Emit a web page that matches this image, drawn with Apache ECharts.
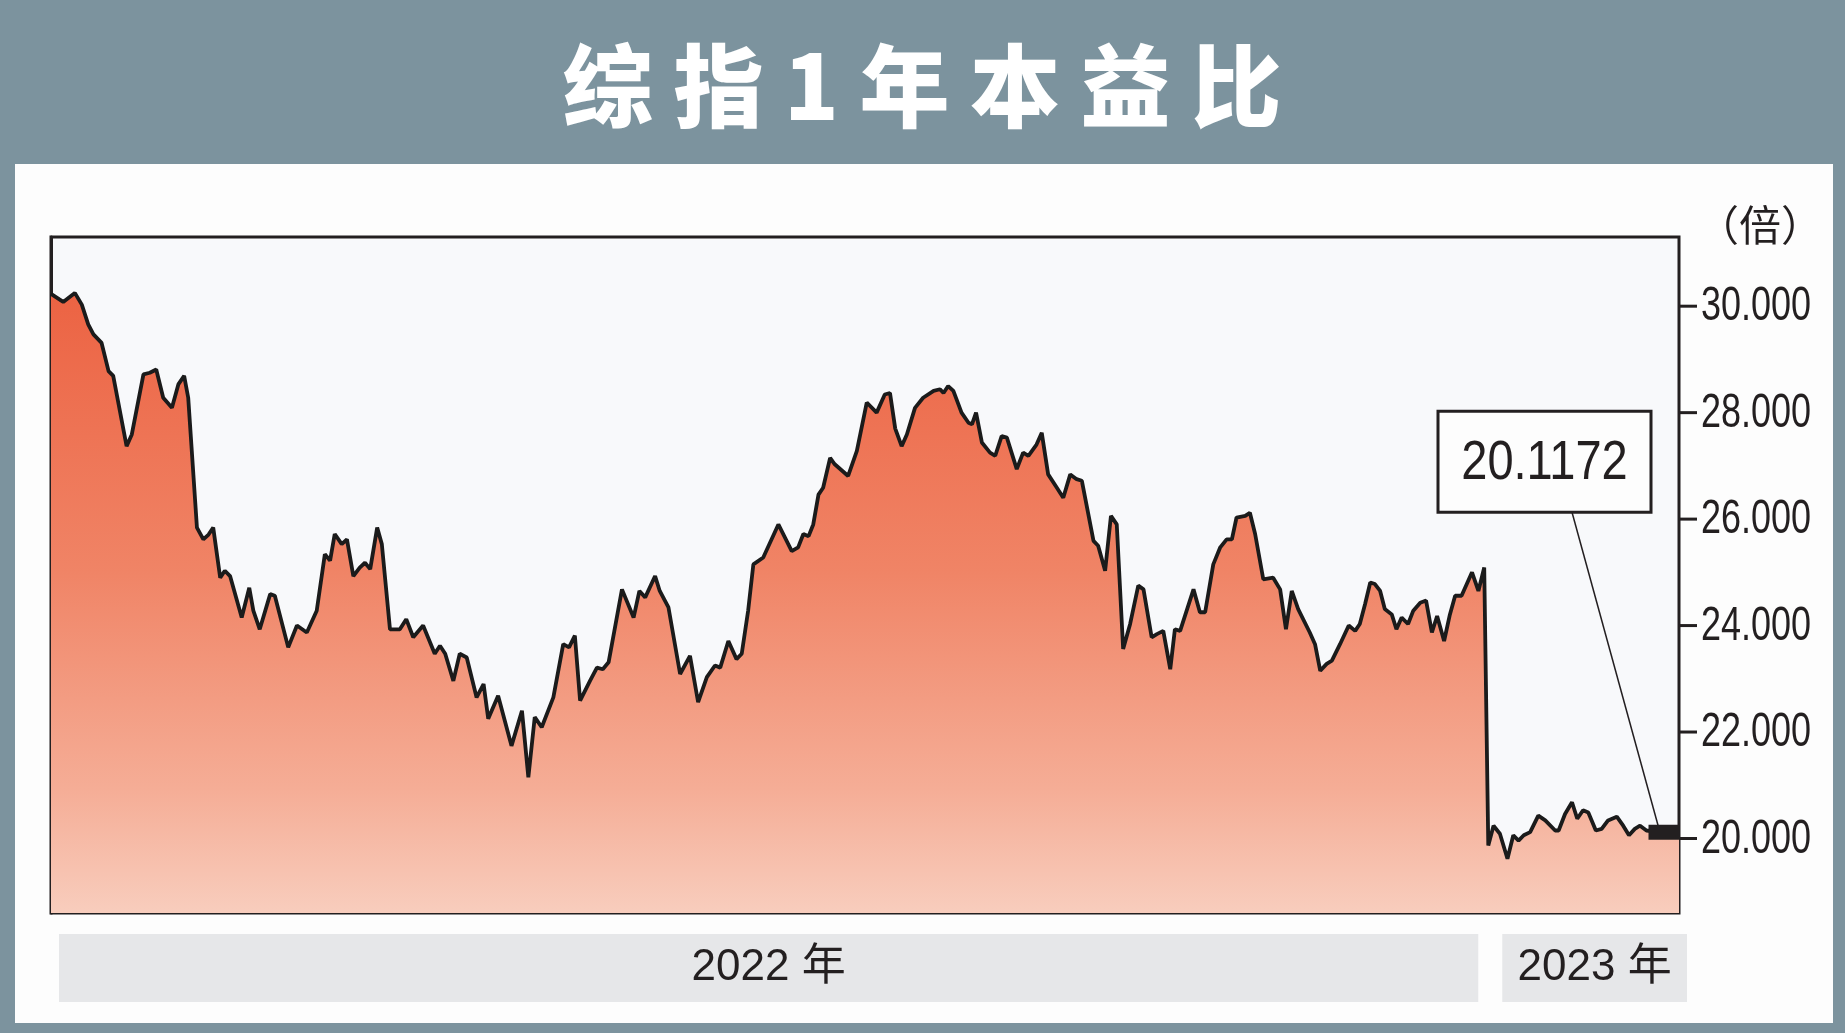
<!DOCTYPE html>
<html><head><meta charset="utf-8">
<script src="https://cdn.jsdelivr.net/npm/echarts@6/dist/echarts.min.js"></script>
<style>
html,body{margin:0;padding:0;width:1845px;height:1033px;overflow:hidden;background:#7c939e;}
#panel{position:absolute;left:15px;top:164px;width:1818px;height:859px;background:#fdfdfd;}
#chart{position:absolute;left:0;top:0;width:1845px;height:1033px;}
</style></head><body>
<div id="panel"></div><div id="chart"></div>
<script>
const titleText = '综 指 1 年 本 益 比';
const unitText = '（倍）';
const yearLabels = ['2022 年', '2023 年'];
const yearBoundaryDay = 246.85;
const lastLabel = '20.1172';
const yTicks = [20, 22, 24, 26, 28, 30];

// trading-day position of each vertex
const days = [
0,2.1,4.1,5.3,6.4,7.3,8.7,9.9,10.7,13.0,13.9,15.9,17.0,18.1,19.3,20.8,21.9,22.9,23.6,25.1,26.2,27.1,27.9,29.1,29.9,30.8,32.8,34.1,34.8,35.9,37.7,38.5,40.8,42.3,44.0,45.7,
47.1,48.0,48.8,50.0,50.9,52.0,53.1,54.0,54.9,56.1,56.9,58.3,60.0,61.1,62.3,64.0,66.0,66.9,67.8,69.2,70.3,71.5,73.2,74.4,75.2,76.9,79.2,81.0,82.1,83.2,84.4,86.4,88.1,89.1,90.1,91.0,92.7,93.9,94.9,
95.9,98.2,100.2,101.2,102.2,103.9,104.7,106.2,108.2,109.9,111.3,112.8,114.2,115.1,116.5,117.9,118.8,119.9,120.8,122.5,125.1,127.4,128.5,129.4,130.3,131.1,132.0,132.8,134.0,134.8,137.1,138.6,140.3,142.0,143.4,144.3,
145.2,146.3,147.2,148.6,150.0,151.8,152.9,153.5,154.3,155.2,156.6,157.8,158.4,159.1,160.1,161.5,162.4,163.5,164.4,166.1,167.2,168.1,169.5,170.4,171.5,173.0,174.1,175.3,176.4,177.3,179.3,180.1,181.3,182.3,183.3,184.4,185.6,187.0,187.9,189.3,190.2,191.3,192.5,193.3,194.2,
196.5,197.6,198.5,199.9,201.1,202.2,203.1,203.9,205.4,206.2,207.1,208.5,210.2,211.4,212.4,213.4,214.5,216.5,217.4,218.3,219.4,220.3,221.7,223.2,224.3,225.1,226.0,226.9,227.7,228.6,229.4,230.6,231.4,232.3,233.4,234.3,235.5,236.5,237.5,238.4,239.6,240.6,241.5,242.6,244.4,245.5,246.5,
247.2,248.1,249.2,250.5,251.5,252.4,253.3,254.4,255.8,257.0,258.7,259.3,260.4,261.6,262.5,263.5,264.4,265.7,266.7,267.8,269.3,270.4,271.4,272.4,273.3,274.4,276.7,280.0
];
// P/E ratio (倍)
const values = [
30.23,30.08,30.25,30.03,29.66,29.47,29.31,28.78,28.69,27.37,27.59,28.72,28.75,28.81,28.28,28.09,28.53,28.69,28.28,25.84,25.62,25.71,25.84,24.90,25.03,24.93,24.15,24.71,24.28,23.93,24.59,24.56,23.59,24.00,23.87,24.28,
25.34,25.22,25.72,25.53,25.62,24.93,25.09,25.18,25.06,25.84,25.53,23.93,23.93,24.12,23.78,24.00,23.47,23.62,23.47,22.96,23.47,23.40,22.65,22.90,22.25,22.68,21.74,22.40,21.15,22.28,22.09,22.65,23.65,23.59,23.81,22.59,22.96,23.21,23.18,
23.31,24.68,24.15,24.65,24.53,24.93,24.65,24.34,23.09,23.43,22.56,23.03,23.25,23.21,23.71,23.37,23.47,24.28,25.15,25.28,25.90,25.40,25.47,25.72,25.68,25.90,26.46,26.59,27.15,27.03,26.81,27.28,28.19,28.00,28.34,28.37,
27.70,27.37,27.59,28.09,28.28,28.41,28.44,28.37,28.50,28.41,28.00,27.81,27.78,28.00,27.44,27.25,27.19,27.56,27.53,26.94,27.25,27.19,27.40,27.62,26.84,26.59,26.40,26.84,26.75,26.72,25.59,25.50,25.03,26.06,25.90,23.56,24.03,24.75,24.68,23.78,23.84,23.90,23.18,23.93,23.90,
24.68,24.25,24.25,25.15,25.47,25.62,25.62,26.03,26.06,26.12,25.72,24.87,24.90,24.68,23.93,24.65,24.31,23.87,23.65,23.15,23.28,23.34,23.65,24.00,23.90,24.03,24.40,24.81,24.78,24.65,24.31,24.21,23.93,24.15,24.03,24.28,24.43,24.47,23.87,24.18,23.71,24.21,24.56,24.56,25.00,24.65,25.09,
19.87,20.24,20.09,19.62,20.06,19.96,20.06,20.12,20.43,20.34,20.15,20.15,20.46,20.68,20.37,20.53,20.49,20.15,20.18,20.34,20.41,20.24,20.06,20.18,20.24,20.15,20.12,20.1172
];

const sansFont = "'Liberation Sans','Noto Sans CJK SC',sans-serif";
const ink = '#231f20';
const chart = echarts.init(document.getElementById('chart'));
const seriesData = days.map((d, i) => [d, values[i]]);
const lastPt = seriesData[seriesData.length - 1];
const xMin = 0, xMax = 280, yMin = 18.6, yMax = 31.3;
const tickLen = 18;

chart.setOption({
  animation: false,
  backgroundColor: 'transparent',
  grid: { left: 51, right: 166, top: 237, bottom: 120, show: true, backgroundColor: '#f8f9fb', borderColor: ink, borderWidth: 3 },
  xAxis: { type: 'value', min: xMin, max: xMax, show: false },
  yAxis: {
    type: 'value', position: 'right', min: yMin, max: yMax,
    splitLine: { show: false },
    axisLine: { show: true, lineStyle: { color: ink, width: 3 } },
    axisTick: { show: false },
    axisLabel: { show: false }
  },
  series: [{
    type: 'line', data: seriesData, symbol: 'none', z: 3,
    lineStyle: { color: '#1b1b1b', width: 3.8 },
    areaStyle: { origin: 'start', opacity: 1, color: new echarts.graphic.LinearGradient(0, 0, 0, 1, [
      { offset: 0, color: '#ec6343' }, { offset: 0.45, color: '#f08466' },
      { offset: 0.8, color: '#f5ad96' }, { offset: 1, color: '#f8cdbd' }]) },
    markPoint: { silent: true, symbol: 'rect', symbolSize: [31, 15], symbolOffset: [-15, 0],
      itemStyle: { color: ink }, label: { show: false }, data: [{ coord: lastPt }] }
  }]
});

const toPx = pt => chart.convertToPixel({ seriesIndex: 0 }, pt);
const p = toPx(lastPt);
const bx = toPx([yearBoundaryDay, 20])[0];
const gl = toPx([xMin, yMin]);
const gr = toPx([xMax, yMin]);
const bandTop = gl[1] + 21, bandH = 68;
const b1 = [gl[0] + 8, bx - 8], b2 = [bx + 16, gr[0] + 8];

// y-axis ticks and tick labels (condensed look), positioned through the axis scale
const tickMarks = [];
yTicks.forEach(v => {
  const q = toPx([xMax, v]);
  tickMarks.push({ type: 'line', z: 100, shape: { x1: q[0], y1: q[1], x2: q[0] + tickLen, y2: q[1] },
    style: { stroke: ink, lineWidth: 3 } });
  tickMarks.push({ type: 'text', z: 100, x: q[0] + tickLen + 4, y: q[1] + 1, scaleX: 0.75,
    style: { x: 0, y: 0, text: v.toFixed(3), fill: ink, align: 'left', verticalAlign: 'middle', font: '48px ' + sansFont } });
});

chart.setOption({
  graphic: [
    { type: 'text', z: 100, style: { x: 922, y: 86, text: titleText, fill: '#ffffff', align: 'center', verticalAlign: 'middle',
      font: "900 90px 'Noto Sans CJK SC'" } },
    { type: 'text', z: 100, style: { x: 1760, y: 225, text: unitText, fill: ink, align: 'center', verticalAlign: 'middle',
      font: "42px 'Noto Sans CJK SC'" } },
    ...tickMarks,
    { type: 'line', z: 100, shape: { x1: p[0] - 107, y1: p[1] - 320, x2: p[0] - 21, y2: p[1] - 7 }, style: { stroke: ink, lineWidth: 1.5 } },
    { type: 'rect', z: 100, shape: { x: p[0] - 241, y: p[1] - 421, width: 213, height: 101 }, style: { fill: '#fdfdfd', stroke: ink, lineWidth: 3 } },
    { type: 'text', z: 101, x: p[0] - 134.5, y: p[1] - 369, scaleX: 0.84,
      style: { x: 0, y: 0, text: lastLabel, fill: ink, align: 'center', verticalAlign: 'middle', font: '56px ' + sansFont } },
    { type: 'rect', z: 100, shape: { x: b1[0], y: bandTop, width: b1[1] - b1[0], height: bandH }, style: { fill: '#e6e7e9' } },
    { type: 'rect', z: 100, shape: { x: b2[0], y: bandTop, width: b2[1] - b2[0], height: bandH }, style: { fill: '#e6e7e9' } },
    { type: 'text', z: 101, style: { x: (b1[0] + b1[1]) / 2, y: bandTop + bandH / 2, text: yearLabels[0], fill: ink, align: 'center', verticalAlign: 'middle',
      font: '44px ' + sansFont } },
    { type: 'text', z: 101, style: { x: (b2[0] + b2[1]) / 2, y: bandTop + bandH / 2, text: yearLabels[1], fill: ink, align: 'center', verticalAlign: 'middle',
      font: '44px ' + sansFont } }
  ]
});
</script>
</body></html>
